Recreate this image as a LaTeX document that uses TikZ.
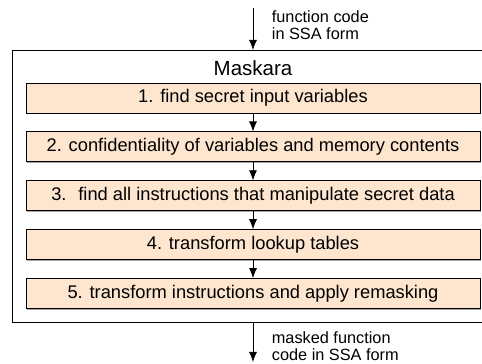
\documentclass[tikz,border=0pt]{standalone}
\usepackage{fontspec}
\setmainfont{Liberation Sans}
\usepackage{tikz}
\usetikzlibrary{arrows.meta, positioning, shadows}
\definecolor{stepfill}{RGB}{253,230,205}

\begin{document}
\begin{tikzpicture}[x=1pt, y=1pt, node distance=18pt, font=\fontsize{18.3}{22}\selectfont]
        \tikzset{
        block/.style = {draw, fill=stepfill, line width=0.9pt, rectangle, minimum width=454pt, minimum height=30pt, inner sep=0pt,
                        drop shadow={shadow xshift=1pt, shadow yshift=-1pt, fill=gray!70, opacity=1}},
        frame/.style = {draw, line width=0.9pt},
        line/.style  = {line width=0.8pt, -{Latex[length=10pt, width=8pt]}},
        note/.style  = {anchor=north west, inner sep=0pt, align=left, font=\fontsize{16.3}{17.3}\selectfont}
        }
        \useasboundingbox (0,0) rectangle (482,364);
        \clip (0,0) rectangle (482,364);

        % Outer frame and title
        \coordinate (frameSW) at (12.5,42);
        \coordinate (frameNE) at (495,314);
        \draw[frame] (frameSW) rectangle (frameNE);
        \node[anchor=base, inner sep=0pt, font=\fontsize{20.5}{24}\selectfont] (title) at (253,288.3) {Maskara};

        % Steps
        \node[block] (find) at (253,266) {1. find secret input variables};
        \node[block, below=of find] (conf) {2. confidentiality of variables and memory contents};
        \node[block, below=of conf] (instr) {3.~ find all instructions that manipulate secret data};
        \node[block, below=of instr] (lookup) {4. transform lookup tables};
        \node[block, below=of lookup] (remask) {5. transform instructions and apply remasking};

        % Connections
        \draw[line] (find) -- (conf);
        \draw[line] (conf) -- (instr);
        \draw[line] (instr) -- (lookup);
        \draw[line] (lookup) -- (remask);

        % Input and output
        \coordinate (in) at (253,356);
        \coordinate (out) at (253,2);
        \draw[line] (in) -- (in |- frameNE);
        \draw[line] (out |- frameSW) -- (out);
        \node[note] (inlabel) at (271.7,354) {function code\\in SSA form};
        \node[note] (outlabel) at (271.7,32.5) {masked function\\code in SSA form};
\end{tikzpicture}
\end{document}
